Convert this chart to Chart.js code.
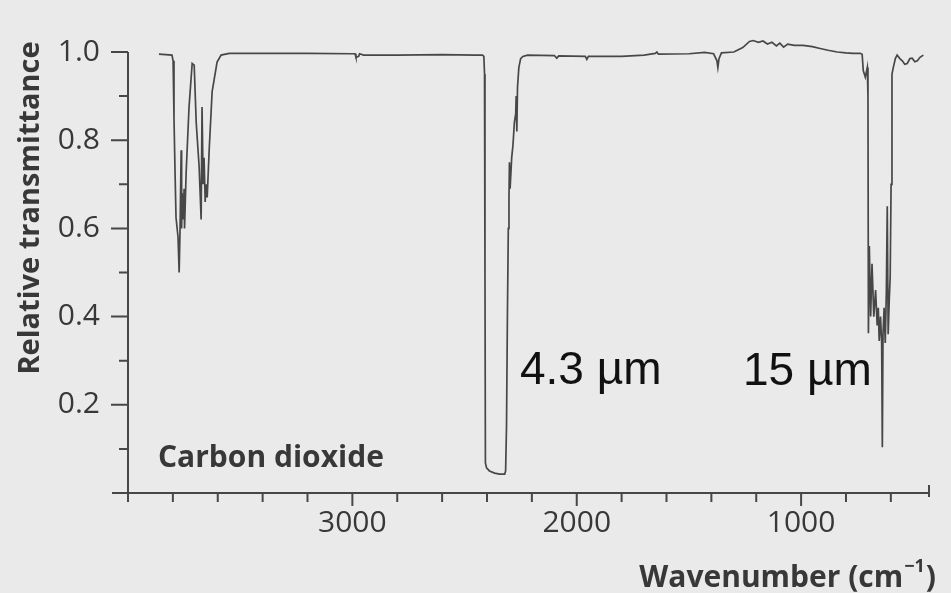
<!DOCTYPE html>
<html>
<head>
<meta charset="utf-8">
<title>Carbon dioxide IR spectrum</title>
<script src="https://cdn.jsdelivr.net/npm/chart.js@4.4.0/dist/chart.umd.min.js"></script>
<style>
  html, body { margin: 0; padding: 0; background: #eaeaea; }
  #wrap { width: 951px; height: 593px; }
</style>
</head>
<body>
<div id="wrap"><canvas id="spectrum" width="951" height="593"></canvas></div>
<script>
// spectrum: wavenumber (cm-1) and relative transmittance
const wavenumber = [
  3862, 3804, 3799, 3795, 3790, 3786, 3781, 3777, 3772, 3768, 3763, 3761, 3759, 3754, 3750, 3748,
  3741, 3728, 3714, 3705, 3696, 3683, 3674, 3670, 3665, 3661, 3656, 3652, 3647, 3638, 3625, 3603,
  3585, 3549, 3400, 3200, 3000, 2988, 2984, 2972, 2968, 2950, 2800, 2600, 2450,
  2420, 2414, 2411, 2409, 2407, 2402, 2389, 2366, 2344, 2321, 2317, 2313, 2309, 2305, 2302, 2300,
  2297, 2290, 2284, 2278, 2272, 2270, 2267, 2264, 2258, 2250, 2240, 2219,
  2100, 2089, 2080, 1962, 1955, 1948, 1800, 1700, 1650, 1643, 1636, 1500, 1430, 1390, 1375, 1371,
  1366, 1355, 1300, 1260, 1230, 1214, 1190, 1170, 1150, 1130, 1110, 1095, 1078, 1060, 1030, 991,
  950, 915, 880, 839, 800, 768, 737,
  728, 723, 714, 705, 702, 700, 696, 690, 684, 676, 668, 661, 656, 652, 646, 641, 638,
  635, 630, 625, 620, 616, 612, 607, 603, 599, 595, 589, 580, 572, 560, 549, 538, 527, 515, 505,
  493, 482, 470, 455
];
const transmittance = [
  0.995, 0.993, 0.98, 0.85, 0.72, 0.625, 0.60, 0.58, 0.50, 0.60, 0.777, 0.60, 0.68, 0.62, 0.69, 0.60,
  0.725, 0.875, 0.974, 0.97, 0.84, 0.74, 0.62, 0.875, 0.70, 0.76, 0.66, 0.70, 0.67, 0.78, 0.91, 0.977,
  0.993, 0.997, 0.997, 0.997, 0.996, 0.996, 0.988, 0.990, 0.996, 0.993, 0.993, 0.994, 0.993,
  0.993, 0.99, 0.95, 0.50, 0.068, 0.057, 0.05, 0.045, 0.043, 0.043, 0.05, 0.15, 0.40, 0.60, 0.67, 0.75,
  0.69, 0.76, 0.79, 0.84, 0.86, 0.90, 0.82, 0.92, 0.965, 0.985, 0.99, 0.993,
  0.992, 0.986, 0.991, 0.99, 0.983, 0.99, 0.99, 0.993, 0.997, 1.0, 0.995, 0.996, 0.999, 0.996, 0.98, 0.965,
  0.985, 0.998, 1.0, 1.01, 1.024, 1.026, 1.022, 1.025, 1.018, 1.022, 1.014, 1.02, 1.011, 1.018, 1.015, 1.015,
  1.012, 1.008, 1.004, 1.0, 0.998, 0.997, 0.997,
  0.995, 0.958, 0.943, 0.965, 0.90, 0.362, 0.56, 0.40, 0.52, 0.40, 0.46, 0.38, 0.42, 0.345, 0.40, 0.34, 0.104,
  0.36, 0.42, 0.34, 0.46, 0.65, 0.36, 0.44, 0.49, 0.70, 0.95, 0.965, 0.985, 0.993, 0.985, 0.98, 0.972, 0.974, 0.985, 0.986,
  0.978, 0.98, 0.988, 0.993
];

// axis ticks
const xMajorTicks = [3000, 2000, 1000];
const xMinorTicks = [4000, 3800, 3600, 3400, 3200, 2800, 2600, 2400, 2200, 1800, 1600, 1400, 1200, 800, 600];
const yMajorTicks = [0.2, 0.4, 0.6, 0.8, 1.0];
const yMinorTicks = [0.1, 0.3, 0.5, 0.7, 0.9];

// texts
const yTitle = "Relative transmittance";
const xTitle = "Wavenumber (cm";
const sampleName = "Carbon dioxide";
const bandLabels = ["4.3 \u00b5m", "15 \u00b5m"];

const ink = "#383838";
const tickFont = { family: "'Open Sans', sans-serif", size: 30 };

const points = wavenumber.map((w, i) => ({ x: w, y: transmittance[i] }));

// hand-drawn style axes: long major ticks, short minor ticks, titles and labels
const axesPlugin = {
  id: "axes",
  afterDraw(chart) {
    const { ctx, chartArea: a, scales: { x, y } } = chart;
    ctx.save();
    ctx.strokeStyle = "#474747";
    ctx.lineWidth = 2;
    ctx.beginPath();
    ctx.moveTo(a.left - 16, a.bottom);
    ctx.lineTo(a.right, a.bottom);
    ctx.moveTo(a.right, a.bottom - 8);
    ctx.lineTo(a.right, a.bottom + 4);
    ctx.moveTo(a.left, y.getPixelForValue(1.0));
    ctx.lineTo(a.left, a.bottom + 9);
    xMajorTicks.forEach(v => {
      const px = x.getPixelForValue(v);
      ctx.moveTo(px, a.bottom);
      ctx.lineTo(px, a.bottom + 13);
    });
    xMinorTicks.forEach(v => {
      const px = x.getPixelForValue(v);
      ctx.moveTo(px, a.bottom);
      ctx.lineTo(px, a.bottom + 9);
    });
    yMajorTicks.forEach(v => {
      const py = y.getPixelForValue(v);
      ctx.moveTo(a.left - 17, py);
      ctx.lineTo(a.left, py);
    });
    yMinorTicks.forEach(v => {
      const py = y.getPixelForValue(v);
      ctx.moveTo(a.left - 9, py);
      ctx.lineTo(a.left, py);
    });
    ctx.stroke();

    ctx.fillStyle = ink;
    ctx.font = "bold 29px 'Open Sans', sans-serif";
    ctx.textAlign = "center";
    ctx.textBaseline = "middle";
    ctx.save();
    ctx.translate(31, 208);
    ctx.rotate(-Math.PI / 2);
    ctx.fillText(yTitle, 0, 0);
    ctx.restore();

    ctx.textBaseline = "alphabetic";
    ctx.textAlign = "left";
    ctx.font = "bold 30px 'Open Sans', sans-serif";
    ctx.fillText(sampleName, 158, 467);

    // x title with superscript -1
    ctx.font = "bold 30px 'Open Sans', sans-serif";
    const sup = "\u22121";
    const w1 = ctx.measureText(xTitle).width;
    ctx.font = "bold 18px 'Open Sans', sans-serif";
    const w2 = ctx.measureText(sup).width;
    ctx.font = "bold 30px 'Open Sans', sans-serif";
    const w3 = ctx.measureText(")").width;
    const x0 = 936 - (w1 + w2 + w3 + 2);
    ctx.fillText(xTitle, x0, 587);
    ctx.fillText(")", x0 + w1 + w2 + 2, 587);
    ctx.font = "bold 18px 'Open Sans', sans-serif";
    ctx.fillText(sup, x0 + w1 + 1, 572);

    ctx.fillStyle = "#111";
    ctx.font = "46px 'Liberation Sans', Arial, sans-serif";
    ctx.fillText(bandLabels[0], 520, 384);
    ctx.fillText(bandLabels[1], 743, 385);
    ctx.restore();
  }
};

new Chart(document.getElementById("spectrum"), {
  type: "line",
  data: {
    datasets: [{
      data: points,
      borderColor: "#474747",
      borderWidth: 1.7,
      pointRadius: 0,
      tension: 0,
      fill: false,
      clip: false
    }]
  },
  options: {
    responsive: false,
    animation: false,
    layout: { padding: { top: 52, right: 22, left: 0, bottom: 0 } },
    plugins: { legend: { display: false }, tooltip: { enabled: false } },
    scales: {
      x: {
        type: "linear",
        min: 430,
        max: 4000,
        reverse: true,
        afterFit: s => { s.height = 100; },
        afterBuildTicks: s => {
          s.ticks = xMinorTicks.concat(xMajorTicks).sort((p, q) => q - p).map(v => ({ value: v }));
        },
        grid: { display: false, drawTicks: false },
        border: { display: false },
        ticks: {
          autoSkip: false,
          maxRotation: 0,
          padding: 12,
          color: ink,
          font: tickFont,
          callback: v => xMajorTicks.includes(v) ? String(v) : ""
        }
      },
      y: {
        type: "linear",
        min: 0,
        max: 1.0,
        afterFit: s => { s.width = 128; },
        afterBuildTicks: s => {
          s.ticks = yMinorTicks.concat(yMajorTicks).sort((p, q) => p - q).map(v => ({ value: v }));
        },
        grid: { display: false, drawTicks: false },
        border: { display: false },
        ticks: {
          autoSkip: false,
          padding: 28,
          color: ink,
          font: tickFont,
          callback: v => yMajorTicks.includes(v) ? v.toFixed(1) : ""
        }
      }
    }
  },
  plugins: [axesPlugin]
});
</script>
</body>
</html>
